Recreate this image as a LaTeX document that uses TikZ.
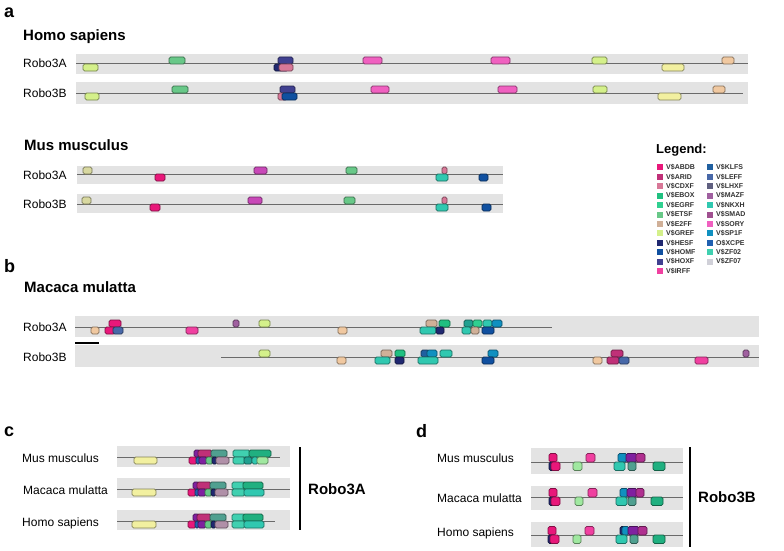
\documentclass[tikz,border=0pt]{standalone}
\usepackage{fontspec}
\setmainfont{Liberation Sans}
\definecolor{ABDB}{HTML}{E8187A}
\definecolor{ARID}{HTML}{C03078}
\definecolor{CDXF}{HTML}{D87898}
\definecolor{EBOX}{HTML}{20C080}
\definecolor{EGRF}{HTML}{30D090}
\definecolor{ETSF}{HTML}{68C888}
\definecolor{E2FF}{HTML}{D0B098}
\definecolor{GREF}{HTML}{D4F08A}
\definecolor{HESF}{HTML}{202870}
\definecolor{HOMF}{HTML}{1050A0}
\definecolor{HOXF}{HTML}{404090}
\definecolor{IRFF}{HTML}{F040A0}
\definecolor{KLFS}{HTML}{2060A0}
\definecolor{LEFF}{HTML}{4868A8}
\definecolor{LHXF}{HTML}{606080}
\definecolor{MAZF}{HTML}{A060A0}
\definecolor{NKXH}{HTML}{30C8B0}
\definecolor{SMAD}{HTML}{A05090}
\definecolor{SORY}{HTML}{F060C0}
\definecolor{SP1F}{HTML}{1090C0}
\definecolor{XCPE}{HTML}{2060B0}
\definecolor{ZF02}{HTML}{40D0B0}
\definecolor{ZF07}{HTML}{D0D0D8}
\definecolor{YEL}{HTML}{F2F0A0}
\definecolor{PEACH}{HTML}{F0C8A0}
\definecolor{KHAKI}{HTML}{D8D8A0}
\definecolor{MAG}{HTML}{C848B8}
\definecolor{PURP}{HTML}{8020A0}
\definecolor{DTEAL}{HTML}{20A090}
\definecolor{GTEAL}{HTML}{50A090}
\definecolor{MAUVE}{HTML}{B090A8}
\definecolor{LGRN}{HTML}{A0E8A0}
\definecolor{DGRN}{HTML}{20B080}
\definecolor{MPUR}{HTML}{B03090}
\definecolor{bandc}{HTML}{E3E3E3}
\definecolor{linec}{HTML}{6A6A6A}
\tikzset{
  bxs/.style={rounded corners=1.6pt,line width=0.6pt},
  bandfill/.style={fill=bandc},
  rowline/.style={draw=linec,line width=1pt},
  rlabel/.style={anchor=west,inner sep=0pt,font=\fontsize{12}{14}\selectfont},
  head/.style={anchor=west,inner sep=0pt,font=\fontsize{15}{18}\selectfont\bfseries},
  plabel/.style={anchor=west,inner sep=0pt,font=\fontsize{18}{20}\selectfont\bfseries},
  legtxt/.style={anchor=west,inner sep=0pt,text=black!80,font=\fontsize{7}{8}\selectfont\bfseries},
}
\newcommand{\bx}[5]{\draw[bxs,fill=#5,draw=#5!55!black] ({#1},{#2}) rectangle ({#3},{#4});}
\newcommand{\ubx}[3]{\bx{#1}{\ly-\bh}{#2}{\ly}{#3}}
\newcommand{\dbx}[3]{\bx{#1}{\ly}{#2}{\ly+\bh}{#3}}
\newcommand{\legitem}[4]{\fill[#3] (#1,{#2-3}) rectangle ({#1+6},{#2+3}); \node[legtxt] at ({#1+9},#2) {#4};}
\begin{document}
\begin{tikzpicture}[x=1pt,y=-1pt]
\useasboundingbox (0,0) rectangle (784,551);
\fill[white] (0,0) rectangle (784,551);
% ================= panel a
\node[plabel] (la) at (4,13) {a};
\node[head] (hs) at (23,37) {Homo sapiens};
% Homo sapiens Robo3A
\fill[bandc] (76,54) rectangle (748,74);
\draw[rowline] (76,64) -- (748,64);
\node[rlabel] (hsA) at (23,63) {Robo3A};
\def\ly{64}\def\bh{7}
\dbx{83}{98}{GREF}
\ubx{169}{185}{ETSF}
\ubx{278}{293}{HOXF}
\dbx{274}{288}{HESF}
\dbx{279}{293}{CDXF}
\ubx{363}{382}{SORY}
\ubx{491}{510}{SORY}
\ubx{592}{607}{GREF}
\dbx{662}{684}{YEL}
\ubx{722}{734}{PEACH}
% Homo sapiens Robo3B
\fill[bandc] (76,82) rectangle (748,104);
\draw[rowline] (76,93) -- (743,93);
\node[rlabel] (hsB) at (23,93) {Robo3B};
\def\ly{93}
\dbx{85}{99}{GREF}
\ubx{172}{188}{ETSF}
\ubx{280}{295}{HOXF}
\dbx{278}{287}{CDXF}
\dbx{282}{297}{HOMF}
\ubx{371}{389}{SORY}
\ubx{498}{517}{SORY}
\ubx{593}{607}{GREF}
\dbx{658}{681}{YEL}
\ubx{713}{725}{PEACH}
% Mus musculus
\node[head] (mm) at (24,145) {Mus musculus};
\fill[bandc] (77,166) rectangle (503,184);
\draw[rowline] (77,174) -- (503,174);
\node[rlabel] (mmA) at (23,175) {Robo3A};
\def\ly{174}
\ubx{83}{92}{KHAKI}
\dbx{155}{165}{ABDB}
\ubx{254}{267}{MAG}
\ubx{346}{357}{ETSF}
\ubx{442}{447}{CDXF}
\dbx{436}{448}{NKXH}
\dbx{479}{488}{HOMF}
\fill[bandc] (77,194) rectangle (503,213);
\draw[rowline] (77,204) -- (503,204);
\node[rlabel] (mmB) at (23,204) {Robo3B};
\def\ly{204}
\ubx{82}{91}{KHAKI}
\dbx{150}{160}{ABDB}
\ubx{248}{262}{MAG}
\ubx{344}{355}{ETSF}
\ubx{442}{447}{CDXF}
\dbx{436}{448}{NKXH}
\dbx{482}{491}{HOMF}
% ================= legend
\node[anchor=west,inner sep=0pt,font=\fontsize{13}{15}\selectfont\bfseries] (leg) at (656,150) {Legend:};
\legitem{657}{167.3}{ABDB}{V\$ABDB}
\legitem{657}{176.7}{ARID}{V\$ARID}
\legitem{657}{186.2}{CDXF}{V\$CDXF}
\legitem{657}{195.6}{EBOX}{V\$EBOX}
\legitem{657}{205.0}{EGRF}{V\$EGRF}
\legitem{657}{214.5}{ETSF}{V\$ETSF}
\legitem{657}{223.9}{E2FF}{V\$E2FF}
\legitem{657}{233.3}{GREF}{V\$GREF}
\legitem{657}{242.7}{HESF}{V\$HESF}
\legitem{657}{252.2}{HOMF}{V\$HOMF}
\legitem{657}{261.6}{HOXF}{V\$HOXF}
\legitem{657}{271.0}{IRFF}{V\$IRFF}
\legitem{707}{167.3}{KLFS}{V\$KLFS}
\legitem{707}{176.7}{LEFF}{V\$LEFF}
\legitem{707}{186.2}{LHXF}{V\$LHXF}
\legitem{707}{195.6}{MAZF}{V\$MAZF}
\legitem{707}{205.0}{NKXH}{V\$NKXH}
\legitem{707}{214.5}{SMAD}{V\$SMAD}
\legitem{707}{223.9}{SORY}{V\$SORY}
\legitem{707}{233.3}{SP1F}{V\$SP1F}
\legitem{707}{242.7}{XCPE}{O\$XCPE}
\legitem{707}{252.2}{ZF02}{V\$ZF02}
\legitem{707}{261.6}{ZF07}{V\$ZF07}
% ================= panel b
\node[plabel] (lb) at (4,266) {b};
\node[head] (mac) at (24,287) {Macaca mulatta};
\fill[bandc] (75,316) rectangle (759,337);
\draw[rowline] (75,327) -- (552,327);
\node[rlabel] (macA) at (23,327) {Robo3A};
\def\ly{327}
\dbx{91}{99}{PEACH}
\ubx{109}{121}{ABDB}
\dbx{105}{115}{ABDB}
\dbx{113}{123}{LEFF}
\dbx{186}{198}{IRFF}
\ubx{233}{239}{MAZF}
\ubx{259}{270}{GREF}
\dbx{338}{347}{PEACH}
\ubx{426}{437}{E2FF}
\ubx{439}{450}{EBOX}
\dbx{420}{436}{NKXH}
\dbx{436}{444}{HESF}
\ubx{464}{473}{DTEAL}
\ubx{473}{482}{EGRF}
\ubx{483}{492}{NKXH}
\ubx{492}{502}{SP1F}
\dbx{462}{471}{NKXH}
\dbx{471}{479}{E2FF}
\dbx{482}{494}{HOMF}
\draw[line width=2.5pt] (75,343) coordinate (sb1) -- (99,343) coordinate (sb2);
\fill[bandc] (75,345) rectangle (759,367);
\draw[rowline] (221,357) -- (759,357);
\node[rlabel] (macB) at (23,357) {Robo3B};
\def\ly{357}
\ubx{259}{270}{GREF}
\dbx{337}{346}{PEACH}
\ubx{381}{392}{E2FF}
\ubx{395}{405}{EBOX}
\dbx{375}{390}{NKXH}
\dbx{395}{404}{HESF}
\ubx{421}{429}{KLFS}
\ubx{427}{437}{SP1F}
\ubx{440}{452}{NKXH}
\dbx{418}{438}{NKXH}
\ubx{488}{498}{SP1F}
\dbx{482}{494}{HOMF}
\dbx{593}{602}{PEACH}
\ubx{611}{623}{ARID}
\dbx{607}{619}{ARID}
\dbx{619}{629}{LEFF}
\dbx{695}{708}{IRFF}
\ubx{743}{749}{MAZF}
% ================= panel c
\node[plabel] (lc) at (4,432) {c};
\node[rlabel] (cm) at (22,458) {Mus musculus};
\node[rlabel] (cq) at (23,490) {Macaca mulatta};
\node[rlabel] (ch) at (22,523) {Homo sapiens};
\draw[line width=1.5pt] (300,447) coordinate (cb1) -- (300,530) coordinate (cb2);
\node[anchor=west,inner sep=0pt,font=\fontsize{15}{18}\selectfont\bfseries] (cr) at (308,489) {Robo3A};
% row 1
\fill[bandc] (117,446) rectangle (290,467);
\draw[rowline] (117,457) -- (280,457);
\def\ly{457}
\dbx{134}{157}{YEL}
\ubx{194}{200}{PURP}
\ubx{198}{212}{ARID}
\ubx{211}{227}{GTEAL}
\dbx{189}{197}{ABDB}
\dbx{196}{200}{XCPE}
\dbx{199}{207}{PURP}
\dbx{206}{213}{ETSF}
\dbx{212}{217}{HESF}
\dbx{216}{229}{MAUVE}
\ubx{233}{250}{ZF02}
\ubx{249}{271}{DGRN}
\dbx{233}{245}{ZF02}
\dbx{244}{252}{DTEAL}
\dbx{252}{258}{NKXH}
\dbx{257}{268}{LGRN}
% row 2
\fill[bandc] (117,478) rectangle (290,498);
\draw[rowline] (117,489) -- (290,489);
\def\ly{489}
\dbx{132}{156}{YEL}
\ubx{193}{199}{PURP}
\ubx{197}{211}{ARID}
\ubx{210}{226}{GTEAL}
\dbx{188}{196}{ABDB}
\dbx{195}{199}{XCPE}
\dbx{198}{206}{PURP}
\dbx{205}{212}{ETSF}
\dbx{211}{216}{HESF}
\dbx{215}{228}{MAUVE}
\ubx{232}{245}{ZF02}
\ubx{243}{263}{DGRN}
\dbx{232}{245}{ZF02}
\dbx{244}{264}{NKXH}
% row 3
\fill[bandc] (117,510) rectangle (290,530);
\draw[rowline] (117,521) -- (275,521);
\def\ly{521}
\dbx{132}{156}{YEL}
\ubx{193}{199}{PURP}
\ubx{197}{211}{ARID}
\ubx{210}{226}{GTEAL}
\dbx{188}{196}{ABDB}
\dbx{195}{199}{XCPE}
\dbx{198}{206}{PURP}
\dbx{205}{212}{ETSF}
\dbx{211}{216}{HESF}
\dbx{215}{228}{MAUVE}
\ubx{232}{245}{ZF02}
\ubx{243}{263}{DGRN}
\dbx{232}{245}{ZF02}
\dbx{244}{264}{NKXH}
% ================= panel d
\node[plabel] (ld) at (416,431) {d};
\node[rlabel] (dm) at (437,458) {Mus musculus};
\node[rlabel] (dq) at (437,498) {Macaca mulatta};
\node[rlabel] (dh) at (437,533) {Homo sapiens};
\draw[line width=1.5pt] (690,447) coordinate (db1) -- (690,547) coordinate (db2);
\node[anchor=west,inner sep=0pt,font=\fontsize{15}{18}\selectfont\bfseries] (dr) at (698,497) {Robo3B};
\def\bh{8.5}
% row 1
\fill[bandc] (531,448) rectangle (683,474);
\draw[rowline] (531,462) -- (683,462);
\def\ly{462}
\ubx{549}{557}{ABDB}
\dbx{549}{556}{HESF}
\dbx{551}{560}{ABDB}
\dbx{573}{582}{LGRN}
\ubx{586}{595}{IRFF}
\ubx{618}{627}{SP1F}
\ubx{626}{637}{PURP}
\ubx{636}{645}{MPUR}
\dbx{614}{625}{NKXH}
\dbx{628}{636}{GTEAL}
\dbx{653}{665}{DGRN}
% row 2
\fill[bandc] (531,486) rectangle (683,510);
\draw[rowline] (531,497) -- (683,497);
\def\ly{497}
\ubx{549}{557}{ABDB}
\dbx{549}{556}{HESF}
\dbx{551}{560}{ABDB}
\dbx{575}{583}{LGRN}
\ubx{588}{597}{IRFF}
\ubx{620}{628}{SP1F}
\ubx{627}{637}{PURP}
\ubx{636}{644}{MPUR}
\dbx{616}{627}{NKXH}
\dbx{628}{636}{GTEAL}
\dbx{651}{663}{DGRN}
% row 3
\fill[bandc] (531,522) rectangle (683,547);
\draw[rowline] (531,535) -- (683,535);
\def\ly{535}
\ubx{548}{556}{ABDB}
\dbx{548}{555}{HESF}
\dbx{550}{559}{ABDB}
\dbx{573}{581}{LGRN}
\ubx{585}{594}{IRFF}
\ubx{620}{625}{HESF}
\ubx{622}{629}{SP1F}
\ubx{628}{639}{PURP}
\ubx{638}{647}{MPUR}
\dbx{616}{627}{NKXH}
\dbx{630}{638}{GTEAL}
\dbx{653}{665}{DGRN}
\end{tikzpicture}
\end{document}
